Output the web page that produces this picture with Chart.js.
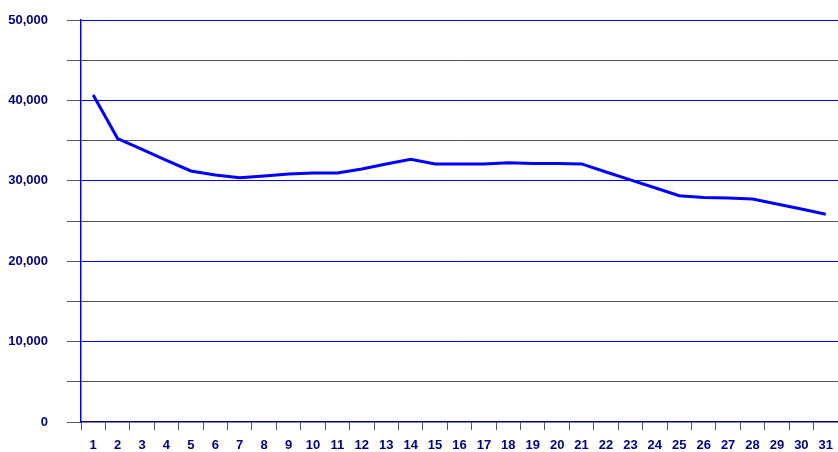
<!DOCTYPE html>
<html>
<head>
<meta charset="utf-8">
<script src="https://cdn.jsdelivr.net/npm/chart.js@4"></script>
<style>
  html, body { margin: 0; padding: 0; background: #fff; }
  #wrap { width: 838px; height: 452px; }
</style>
</head>
<body>
<div id="wrap"><canvas id="chart"></canvas></div>
<script>
// Days of the month
const days = ['1','2','3','4','5','6','7','8','9','10','11','12','13','14','15','16',
              '17','18','19','20','21','22','23','24','25','26','27','28','29','30','31'];

// Daily values
const values = [40670, 35250, 33900, 32550, 31220, 30720, 30390, 30600, 30850, 30970, 30970,
                31470, 32090, 32670, 32090, 32090, 32090, 32250, 32150, 32150, 32100, 31100,
                30120, 29140, 28150, 27920, 27860, 27740, 27110, 26490, 25830];

// Y axis range
const yMin = 0;
const yMax = 50000;
const yStep = 5000;

const labelFont = { family: 'Liberation Sans, Arial, sans-serif', size: 13, weight: 'bold' };
const navy = '#000080';

document.addEventListener('DOMContentLoaded', function() {
    const ctx = document.getElementById('chart').getContext('2d');
    new Chart(ctx, {
        type: 'line',
        data: {
            labels: days,
            datasets: [{
                data: values,
                borderColor: '#0000ff',
                borderWidth: 3,
                pointRadius: 0,
                tension: 0,
                fill: false
            }]
        },
        options: {
            responsive: true,
            maintainAspectRatio: false,
            animation: false,
            layout: { padding: 0 },
            plugins: {
                legend: { display: false },
                tooltip: { enabled: false }
            },
            scales: {
                x: {
                    offset: true,
                    grid: {
                        offset: true,
                        drawOnChartArea: false,
                        tickLength: 8,
                        tickColor: '#555'
                    },
                    border: { color: navy, width: 1.5 },
                    ticks: {
                        color: navy,
                        font: labelFont,
                        padding: 8,
                        maxRotation: 0,
                        autoSkip: false
                    },
                    afterFit: function(scale) {
                        scale.height = 30;
                        scale.paddingLeft = 0;
                        scale.paddingRight = 0;
                    }
                },
                y: {
                    min: yMin,
                    max: yMax,
                    grid: {
                        color: function(c) {
                            if (c.tick.value === 0) return 'rgba(0,0,0,0)';
                            return c.tick.value % 10000 === 0 ? '#0000ff' : '#505050';
                        },
                        tickLength: 14,
                        tickColor: '#555'
                    },
                    border: { color: '#0000ff', width: 1.5 },
                    ticks: {
                        stepSize: yStep,
                        color: navy,
                        font: labelFont,
                        padding: 19,
                        callback: function(v) {
                            return v % 10000 === 0 ? v.toLocaleString('en-US') : '';
                        }
                    },
                    afterFit: function(scale) {
                        scale.width = 81;
                        scale.paddingTop = 20;
                        scale.paddingBottom = 0;
                    }
                }
            }
        }
    });
});
</script>
</body>
</html>
